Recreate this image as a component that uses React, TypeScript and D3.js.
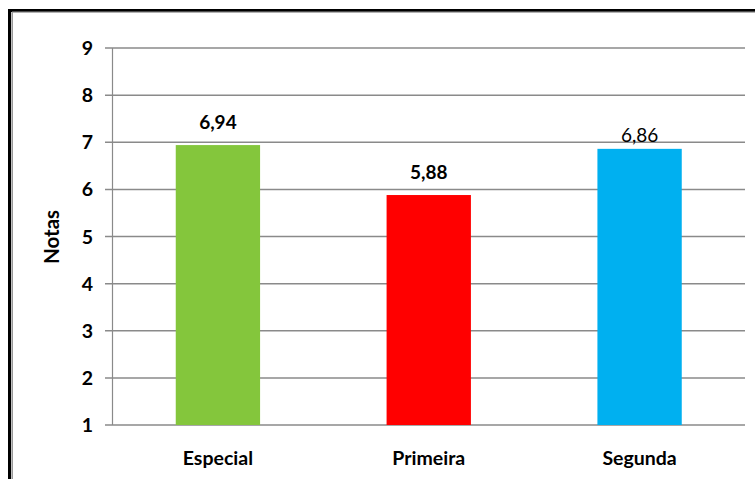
import React from "react";
import * as d3 from "d3";

const categories = ["Especial", "Primeira", "Segunda"];
const values = [6.94, 5.88, 6.86];
const valueLabels = ["6,94", "5,88", "6,86"];
const colors = ["#84C63C", "#FF0000", "#00B0F0"];
const yTicks = [1, 2, 3, 4, 5, 6, 7, 8, 9];

const W = 755;
const H = 479;
const FONT = "Lato, 'Open Sans', sans-serif";

export default function App() {
  const left = 112.5;
  const right = 745;
  const top = 48;
  const bottom = 425;
  const x = d3.scaleBand<string>().domain(categories).range([left, right]).paddingInner(0.6).paddingOuter(0.3);
  const y = d3.scaleLinear().domain([1, 9]).range([bottom, top]);

  return (
    <svg width={W} height={H} style={{ position: "absolute", left: 0, top: 0, background: "#fff" }}>
      <rect x={0} y={0} width={W} height={H} fill="#fff" />
      <rect x={9.5} y={10.5} width={W + 20} height={H + 20} fill="none" stroke="#000" strokeWidth={3} />
      <line x1={12} y1={12.2} x2={W} y2={12.2} stroke="#999" strokeWidth={1.2} />
      <line x1={12.2} y1={12} x2={12.2} y2={H} stroke="#999" strokeWidth={1.6} />
      {yTicks.map((t) => (
        <g key={t}>
          <line x1={105} x2={right} y1={y(t)} y2={y(t)} stroke="#8a8a8a" strokeWidth={1.5} />
          <text x={93} y={y(t)} dy="0.36em" textAnchor="end" fontFamily={FONT} fontWeight="bold" fontSize={19.5} fill="#000">
            {t}
          </text>
        </g>
      ))}
      <line x1={left} x2={left} y1={top} y2={bottom} stroke="#8a8a8a" strokeWidth={1.2} />
      {categories.map((c, i) => {
        const bx = x(c)!;
        const bw = x.bandwidth();
        const by = y(values[i]);
        const shift = i === 2 ? 9 : 0;
        return (
          <g key={c}>
            <rect x={bx} y={by} width={bw} height={bottom - by} fill={colors[i]} />
            <text x={bx + bw / 2} y={by - 16 + shift} textAnchor="middle" fontFamily={FONT} fontWeight={i === 2 ? "normal" : "bold"} fontSize={19} fill="#000">
              {valueLabels[i]}
            </text>
            <text x={bx + bw / 2} y={465} textAnchor="middle" fontFamily={FONT} fontWeight="bold" fontSize={19.5} fill="#000">
              {c}
            </text>
          </g>
        );
      })}
      <line x1={left} x2={left} y1={bottom} y2={bottom} stroke="#8a8a8a" strokeWidth={1.5} />
      <text transform={`translate(59,237) rotate(-90)`} textAnchor="middle" fontFamily={FONT} fontWeight="bold" fontSize={20.5} fill="#000">
        Notas
      </text>
    </svg>
  );
}
